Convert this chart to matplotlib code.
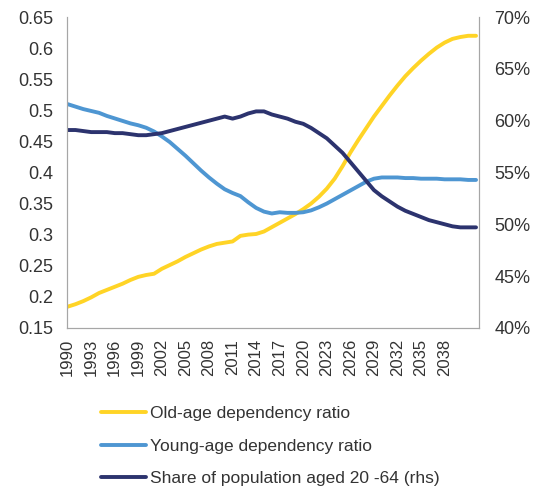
import matplotlib
matplotlib.use('Agg')
import matplotlib.pyplot as plt
import numpy as np

plt.rcParams['font.family'] = ['Liberation Sans', 'DejaVu Sans']

years = list(range(1990, 2043))

old_age = [0.184, 0.188, 0.193, 0.199, 0.206, 0.211, 0.216, 0.221, 0.227, 0.232,
           0.235, 0.237, 0.245, 0.251, 0.257, 0.264, 0.270, 0.276, 0.281, 0.285,
           0.287, 0.289, 0.298, 0.300, 0.301, 0.305, 0.312, 0.319, 0.326, 0.333,
           0.341, 0.350, 0.361, 0.374, 0.390, 0.410, 0.432, 0.452, 0.471, 0.490,
           0.507, 0.524, 0.540, 0.555, 0.568, 0.580, 0.591, 0.601, 0.609, 0.615,
           0.618, 0.620, 0.620]

young_age = [0.510, 0.506, 0.502, 0.499, 0.496, 0.491, 0.487, 0.483, 0.479, 0.476,
             0.472, 0.466, 0.458, 0.449, 0.438, 0.427, 0.415, 0.403, 0.392, 0.382,
             0.373, 0.367, 0.362, 0.352, 0.343, 0.337, 0.334, 0.336, 0.335, 0.335,
             0.336, 0.339, 0.344, 0.350, 0.357, 0.364, 0.371, 0.378, 0.385, 0.390,
             0.392, 0.392, 0.392, 0.391, 0.391, 0.390, 0.390, 0.390, 0.389, 0.389,
             0.389, 0.388, 0.388]

share_20_64 = [59.1, 59.1, 59.0, 58.9, 58.9, 58.9, 58.8, 58.8, 58.7, 58.6,
               58.6, 58.7, 58.8, 59.0, 59.2, 59.4, 59.6, 59.8, 60.0, 60.2,
               60.4, 60.2, 60.4, 60.7, 60.9, 60.9, 60.6, 60.4, 60.2, 59.9,
               59.7, 59.3, 58.8, 58.3, 57.6, 56.9, 56.0, 55.1, 54.2, 53.3,
               52.7, 52.2, 51.7, 51.3, 51.0, 50.7, 50.4, 50.2, 50.0, 49.8,
               49.7, 49.7, 49.7]

tick_years = list(range(1990, 2039, 3))
left_ticks = [0.15, 0.2, 0.25, 0.3, 0.35, 0.4, 0.45, 0.5, 0.55, 0.6, 0.65]
left_labels = ['0.15', '0.2', '0.25', '0.3', '0.35', '0.4', '0.45', '0.5', '0.55', '0.6', '0.65']
right_ticks = [40, 45, 50, 55, 60, 65, 70]

yellow = '#FFD426'
lightblue = '#4E96D2'
navy = '#2C336E'
gray = '#A6A6A6'

fig = plt.figure(figsize=(5.39, 4.90), dpi=100)
ax = fig.add_axes([0.124, 0.331, 0.765, 0.634])
ax2 = ax.twinx()

l1, = ax.plot(years, old_age, color=yellow, lw=2.8, solid_capstyle='round')
l2, = ax.plot(years, young_age, color=lightblue, lw=2.8, solid_capstyle='round')
l3, = ax2.plot(years, share_20_64, color=navy, lw=2.8, solid_capstyle='round')

ax.set_xlim(1989.9, 2042.4)
ax.set_ylim(0.15, 0.65)
ax2.set_ylim(40, 70)

ax.set_yticks(left_ticks)
ax.set_yticklabels(left_labels)
ax2.set_yticks(right_ticks)
ax2.set_yticklabels([f'{v}%' for v in right_ticks])
ax.set_xticks(tick_years)
ax.set_xticklabels([str(y) for y in tick_years], rotation=90)

for a in (ax, ax2):
    a.spines['top'].set_visible(False)
    for s in ('left', 'right', 'bottom'):
        a.spines[s].set_color(gray)
    a.tick_params(length=0, labelsize=13, colors='#333333')
ax.tick_params(axis='y', pad=10)
ax2.tick_params(axis='y', pad=11)
ax.tick_params(axis='x', pad=8, labelsize=12)

fig.legend([l1, l2, l3],
           ['Old-age dependency ratio', 'Young-age dependency ratio',
            'Share of population aged 20 -64 (rhs)'],
           loc='upper left', bbox_to_anchor=(0.175, 0.185), frameon=False,
           fontsize=12.5, handlelength=2.6, handletextpad=0.2, labelspacing=1.0,
           borderaxespad=0, labelcolor='#333333')

fig.savefig('out.png', dpi=100)
